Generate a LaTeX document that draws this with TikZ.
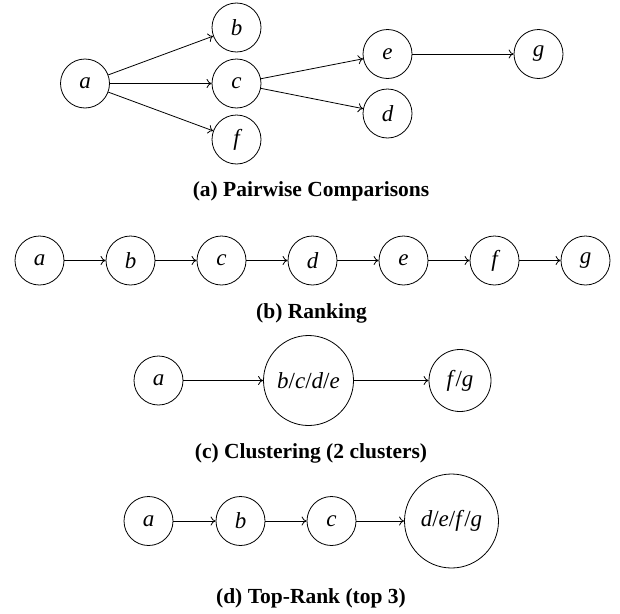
\documentclass[tikz,border=0pt]{standalone}
\usepackage{fontspec}
\setmainfont{Liberation Serif}
\usetikzlibrary{arrows.meta}
\begin{document}
\begin{tikzpicture}[x=1pt,y=-1pt,
  vert/.style={draw,circle,line width=0.8pt,inner sep=0pt,minimum size=49pt,
    font=\fontsize{23}{27}\selectfont\itshape},
  edge/.style={line width=0.8pt,-{To[length=5pt,width=9pt]}},
  capt/.style={font=\fontsize{21.5}{26}\selectfont\bfseries}]
\useasboundingbox (0,0) rectangle (620,613);
% (a)
\node[vert] (a1) at (85,83.5) {a};
\node[vert] (b1) at (236.5,27.5) {b};
\node[vert] (c1) at (236.5,83.5) {c};
\node[vert] (f1) at (236.5,139.5) {f};
\node[vert] (e1) at (387.5,54) {e};
\node[vert] (d1) at (387.5,113.5) {d};
\node[vert] (g1) at (538.5,54) {g};
\draw[edge] (a1) -- (b1);
\draw[edge] (a1) -- (c1);
\draw[edge] (a1) -- (f1);
\draw[edge] (c1) -- (e1);
\draw[edge] (c1) -- (d1);
\draw[edge] (e1) -- (g1);
\node[capt] (capa) at (311,191) {(a) Pairwise Comparisons};
% (b)
\node[vert] (a2) at (39.5,260.5) {a};
\node[vert] (b2) at (130.5,260.5) {b};
\node[vert] (c2) at (221.5,260.5) {c};
\node[vert] (d2) at (312.5,260.5) {d};
\node[vert] (e2) at (403.5,260.5) {e};
\node[vert] (f2) at (494.5,260.5) {f};
\node[vert] (g2) at (585.5,260.5) {g};
\draw[edge] (a2) -- (b2);
\draw[edge] (b2) -- (c2);
\draw[edge] (c2) -- (d2);
\draw[edge] (d2) -- (e2);
\draw[edge] (e2) -- (f2);
\draw[edge] (f2) -- (g2);
\node[capt] (capb) at (311.5,313) {(b) Ranking};
% (c)
\node[vert] (a3) at (158.5,380.5) {a};
\node[vert,minimum size=90pt] (bcde3) at (308.5,380.5) {b\textup{/}c\textup{/}d\textup{/}e};
\node[vert,minimum size=62pt] (fg3) at (460,380.5) {f\textup{/}g};
\draw[edge] (a3) -- (bcde3);
\draw[edge] (bcde3) -- (fg3);
\node[capt] (capc) at (311,453) {(c) Clustering (2 clusters)};
% (d)
\node[vert] (a4) at (148.5,521) {a};
\node[vert] (b4) at (240.5,521) {b};
\node[vert] (c4) at (331.5,521) {c};
\node[vert,minimum size=94pt] (defg4) at (451.5,521) {d\textup{/}e\textup{/}f\textup{/}g};
\draw[edge] (a4) -- (b4);
\draw[edge] (b4) -- (c4);
\draw[edge] (c4) -- (defg4);
\node[capt] (capd) at (311,598) {(d) Top-Rank (top 3)};
\end{tikzpicture}
\end{document}
